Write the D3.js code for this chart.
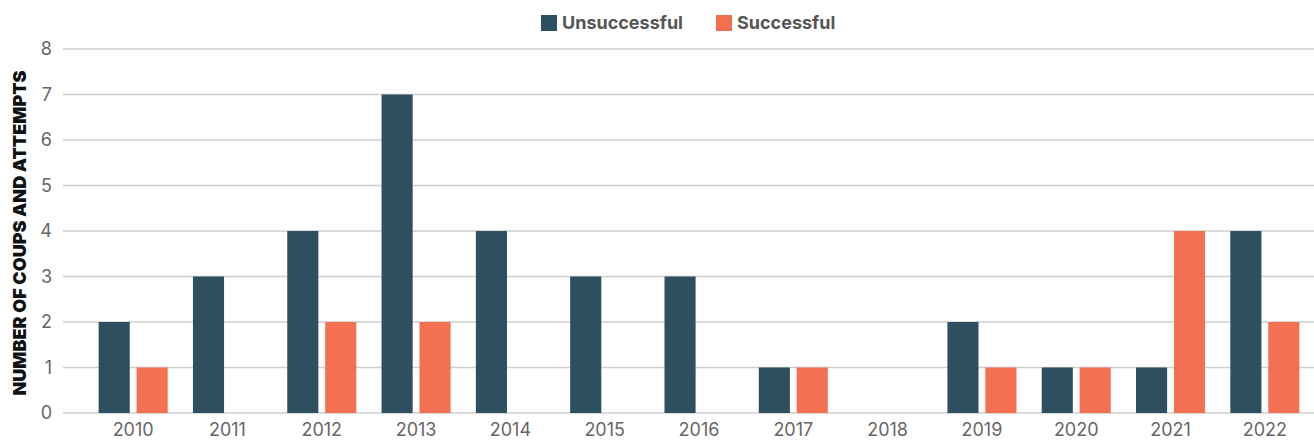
<!DOCTYPE html>
<html><head><meta charset="utf-8">
<script src="https://cdn.jsdelivr.net/npm/d3@7"></script>
<style>body{margin:0;background:#fff;font-family:Inter, "Noto Sans", sans-serif;}</style>
</head><body><svg id="c" width="1314" height="441"></svg>
<script>
const years = ["2010","2011","2012","2013","2014","2015","2016","2017","2018","2019","2020","2021","2022"];
const unsuccessful = [2,3,4,7,4,3,3,1,0,2,1,1,4];
const successful = [1,0,2,2,0,0,0,1,0,1,1,4,2];
const seriesNames = ["Unsuccessful","Successful"];
const colors = ["#2e4f5f","#f37052"];
const yTicks = [0,1,2,3,4,5,6,7,8];

const svg = d3.select("#c");
const x = d3.scaleBand().domain(years).range([86, 1312]).paddingInner(0.268).paddingOuter(0.134);
const x1 = d3.scaleBand().domain(seriesNames).range([0, x.bandwidth()]).paddingInner(0.18).paddingOuter(0);
const y = d3.scaleLinear().domain([0,8]).range([413, 49]);

// gridlines
svg.append("g").selectAll("line").data(yTicks).join("line")
  .attr("x1", 63).attr("x2", 1314)
  .attr("y1", d => y(d)).attr("y2", d => y(d))
  .attr("stroke", "#cfcfcf").attr("stroke-width", 1.3);

// y tick labels
svg.append("g").selectAll("text").data(yTicks).join("text")
  .attr("x", 52).attr("y", d => y(d)).attr("dy", "0.35em")
  .attr("text-anchor", "end").attr("fill", "#666").attr("font-size", 18)
  .text(d => d);

// bars
const data = years.map((yr, i) => ({yr, vals: [unsuccessful[i], successful[i]]}));
const g = svg.append("g").selectAll("g").data(data).join("g")
  .attr("transform", d => `translate(${x(d.yr)},0)`);
g.selectAll("rect").data(d => d.vals.map((v, j) => ({v, j}))).join("rect")
  .attr("x", d => x1(seriesNames[d.j])).attr("width", x1.bandwidth())
  .attr("y", d => y(d.v)).attr("height", d => y(0) - y(d.v))
  .attr("fill", d => colors[d.j]);

// x labels
svg.append("g").selectAll("text").data(years).join("text")
  .attr("x", d => x(d) + x.bandwidth()/2).attr("y", 436)
  .attr("text-anchor", "middle").attr("fill", "#666").attr("font-size", 18)
  .text(d => d);

// y axis title
svg.append("text").attr("transform", "translate(20,233) rotate(-90)")
  .attr("text-anchor", "middle").attr("dy", "0.35em")
  .attr("font-weight", 900).attr("font-size", 18).attr("fill", "#111")
  .text("NUMBER OF COUPS AND ATTEMPTS");

// legend
const leg = svg.append("g");
const legX = [541, 716];
seriesNames.forEach((n, i) => {
  leg.append("rect").attr("x", legX[i]).attr("y", 15).attr("width", 16).attr("height", 16).attr("fill", colors[i]);
  leg.append("text").attr("x", legX[i] + 21).attr("y", 23).attr("dy", "0.35em")
    .attr("font-weight", 700).attr("font-size", 18).attr("fill", "#555").text(n);
});
</script></body></html>
